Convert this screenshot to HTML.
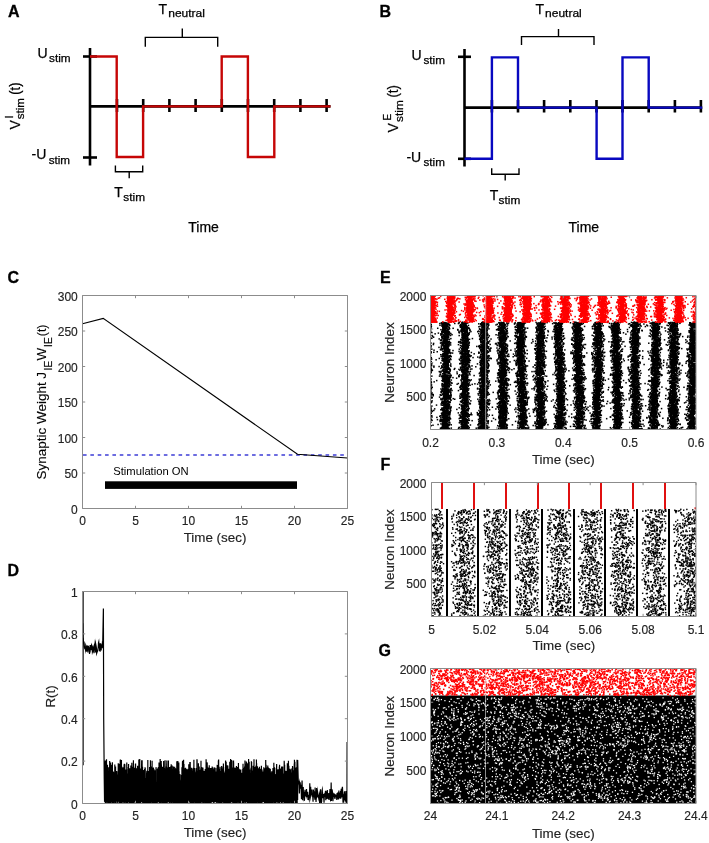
<!DOCTYPE html>
<html><head><meta charset="utf-8">
<style>
html,body{margin:0;padding:0;background:#fff;}
body{width:709px;height:843px;position:relative;overflow:hidden;}
#cv{position:absolute;left:0;top:0;}
#sv{position:absolute;left:0;top:0;}
text{font-family:"Liberation Sans",sans-serif;fill:#000;}
.lab{font-weight:bold;font-size:16px;stroke:#000;stroke-width:0.3px;}
.tk{font-size:12px;fill:#222;stroke:#222;stroke-width:0.15px;}
.al{font-size:13.4px;fill:#222;stroke:#222;stroke-width:0.15px;}
</style></head>
<body>
<svg id="fb" width="709" height="843" viewBox="0 0 709 843" style="position:absolute;left:0;top:0"><defs><pattern id="pF" width="24" height="30" patternUnits="userSpaceOnUse"><path fill="#000" d="M7.8 4.5h1.3v1.3h-1.3zM15.6 2.2h1.3v1.3h-1.3zM12.9 11.0h1.3v1.3h-1.3zM1.4 15.2h1.3v1.3h-1.3zM0.9 13.0h1.3v1.3h-1.3zM1.7 2.7h1.3v1.3h-1.3zM10.2 24.8h1.3v1.3h-1.3zM3.0 6.7h1.3v1.3h-1.3zM15.1 28.4h1.3v1.3h-1.3zM13.9 11.9h1.3v1.3h-1.3zM23.4 1.4h1.3v1.3h-1.3zM20.6 8.7h1.3v1.3h-1.3zM3.5 3.5h1.3v1.3h-1.3zM7.4 24.5h1.3v1.3h-1.3zM4.3 17.4h1.3v1.3h-1.3zM15.3 11.2h1.3v1.3h-1.3zM13.1 1.9h1.3v1.3h-1.3zM1.4 6.2h1.3v1.3h-1.3zM16.3 12.8h1.3v1.3h-1.3zM7.5 17.6h1.3v1.3h-1.3zM10.9 9.0h1.3v1.3h-1.3zM19.1 21.0h1.3v1.3h-1.3zM5.9 17.2h1.3v1.3h-1.3zM12.6 26.3h1.3v1.3h-1.3zM17.5 8.6h1.3v1.3h-1.3zM23.5 3.5h1.3v1.3h-1.3zM10.0 22.7h1.3v1.3h-1.3zM3.6 14.7h1.3v1.3h-1.3zM0.9 20.0h1.3v1.3h-1.3zM18.3 17.2h1.3v1.3h-1.3zM21.0 9.4h1.3v1.3h-1.3zM16.7 17.8h1.3v1.3h-1.3zM13.9 13.7h1.3v1.3h-1.3zM20.2 28.3h1.3v1.3h-1.3zM11.4 19.9h1.3v1.3h-1.3zM1.5 21.0h1.3v1.3h-1.3zM15.5 29.8h1.3v1.3h-1.3zM19.7 8.5h1.3v1.3h-1.3zM9.3 20.1h1.3v1.3h-1.3zM0.5 13.9h1.3v1.3h-1.3zM4.0 3.5h1.3v1.3h-1.3zM1.4 23.0h1.3v1.3h-1.3zM3.1 7.4h1.3v1.3h-1.3zM9.4 26.1h1.3v1.3h-1.3zM1.9 13.5h1.3v1.3h-1.3zM13.2 26.5h1.3v1.3h-1.3zM19.7 25.9h1.3v1.3h-1.3zM6.7 12.5h1.3v1.3h-1.3zM8.6 26.5h1.3v1.3h-1.3zM23.0 4.5h1.3v1.3h-1.3zM4.2 7.0h1.3v1.3h-1.3zM5.6 14.5h1.3v1.3h-1.3zM14.1 7.9h1.3v1.3h-1.3zM0.1 12.6h1.3v1.3h-1.3zM8.9 17.0h1.3v1.3h-1.3zM22.9 20.7h1.3v1.3h-1.3zM12.4 18.5h1.3v1.3h-1.3zM16.2 1.6h1.3v1.3h-1.3zM21.6 23.4h1.3v1.3h-1.3zM21.0 23.9h1.3v1.3h-1.3zM9.4 12.0h1.3v1.3h-1.3zM2.5 19.0h1.3v1.3h-1.3zM1.5 2.0h1.3v1.3h-1.3zM5.0 4.9h1.3v1.3h-1.3zM8.2 1.6h1.3v1.3h-1.3zM0.0 4.5h1.3v1.3h-1.3zM2.4 10.9h1.3v1.3h-1.3zM0.6 26.2h1.3v1.3h-1.3zM14.7 4.5h1.3v1.3h-1.3zM6.1 10.4h1.3v1.3h-1.3zM8.7 3.7h1.3v1.3h-1.3zM20.4 29.8h1.3v1.3h-1.3zM11.2 14.5h1.3v1.3h-1.3zM2.1 3.1h1.3v1.3h-1.3zM8.2 7.9h1.3v1.3h-1.3zM19.9 4.8h1.3v1.3h-1.3zM0.6 28.5h1.3v1.3h-1.3zM12.7 4.4h1.3v1.3h-1.3zM13.0 0.8h1.3v1.3h-1.3zM12.7 29.4h1.3v1.3h-1.3zM20.7 20.9h1.3v1.3h-1.3zM6.3 11.0h1.3v1.3h-1.3zM4.0 23.2h1.3v1.3h-1.3zM12.8 23.4h1.3v1.3h-1.3zM7.9 6.7h1.3v1.3h-1.3zM19.5 29.5h1.3v1.3h-1.3zM20.5 24.2h1.3v1.3h-1.3zM19.6 22.2h1.3v1.3h-1.3zM5.4 15.5h1.3v1.3h-1.3zM8.5 0.9h1.3v1.3h-1.3zM0.7 8.4h1.3v1.3h-1.3zM6.2 20.8h1.3v1.3h-1.3zM23.0 13.4h1.3v1.3h-1.3zM22.5 29.6h1.3v1.3h-1.3zM22.9 10.9h1.3v1.3h-1.3zM5.3 6.8h1.3v1.3h-1.3zM4.7 6.1h1.3v1.3h-1.3zM15.0 27.0h1.3v1.3h-1.3zM20.2 14.4h1.3v1.3h-1.3zM15.7 24.0h1.3v1.3h-1.3zM2.0 19.8h1.3v1.3h-1.3zM21.8 23.5h1.3v1.3h-1.3zM18.0 14.3h1.3v1.3h-1.3zM4.3 23.7h1.3v1.3h-1.3zM8.0 24.0h1.3v1.3h-1.3zM23.3 11.9h1.3v1.3h-1.3zM9.6 28.4h1.3v1.3h-1.3zM17.4 5.1h1.3v1.3h-1.3zM3.0 4.5h1.3v1.3h-1.3zM21.7 24.2h1.3v1.3h-1.3zM3.5 24.8h1.3v1.3h-1.3zM23.5 19.7h1.3v1.3h-1.3zM8.4 16.5h1.3v1.3h-1.3zM3.1 0.4h1.3v1.3h-1.3zM23.3 19.5h1.3v1.3h-1.3zM12.6 28.0h1.3v1.3h-1.3zM10.4 26.2h1.3v1.3h-1.3zM19.8 6.3h1.3v1.3h-1.3zM6.0 8.8h1.3v1.3h-1.3zM5.8 17.6h1.3v1.3h-1.3z"/></pattern><pattern id="pGr" width="30" height="27" patternUnits="userSpaceOnUse"><path fill="#f00" d="M7.8 11.3h1.5v1.5h-1.5zM3.9 24.6h1.5v1.5h-1.5zM10.6 12.4h1.5v1.5h-1.5zM17.5 24.4h1.5v1.5h-1.5zM12.6 24.8h1.5v1.5h-1.5zM15.0 14.4h1.5v1.5h-1.5zM15.7 0.5h1.5v1.5h-1.5zM13.2 4.9h1.5v1.5h-1.5zM0.1 21.6h1.5v1.5h-1.5zM5.2 12.8h1.5v1.5h-1.5zM21.8 15.0h1.5v1.5h-1.5zM9.8 14.0h1.5v1.5h-1.5zM16.7 21.2h1.5v1.5h-1.5zM3.2 15.1h1.5v1.5h-1.5zM7.5 7.5h1.5v1.5h-1.5zM23.2 13.7h1.5v1.5h-1.5zM16.9 20.5h1.5v1.5h-1.5zM27.4 12.0h1.5v1.5h-1.5zM18.4 13.6h1.5v1.5h-1.5zM15.4 18.7h1.5v1.5h-1.5zM13.6 14.4h1.5v1.5h-1.5zM14.3 25.4h1.5v1.5h-1.5zM21.0 23.7h1.5v1.5h-1.5zM28.3 7.0h1.5v1.5h-1.5zM16.8 25.5h1.5v1.5h-1.5zM25.2 3.7h1.5v1.5h-1.5zM3.6 11.9h1.5v1.5h-1.5zM2.2 6.5h1.5v1.5h-1.5zM2.2 18.1h1.5v1.5h-1.5zM23.5 24.2h1.5v1.5h-1.5zM4.6 19.3h1.5v1.5h-1.5zM19.8 3.9h1.5v1.5h-1.5zM26.5 26.1h1.5v1.5h-1.5zM6.6 25.7h1.5v1.5h-1.5zM11.9 13.2h1.5v1.5h-1.5zM29.7 22.5h1.5v1.5h-1.5zM4.8 11.7h1.5v1.5h-1.5zM15.5 9.2h1.5v1.5h-1.5zM5.9 8.6h1.5v1.5h-1.5zM21.7 0.5h1.5v1.5h-1.5zM16.6 11.9h1.5v1.5h-1.5zM0.5 9.0h1.5v1.5h-1.5zM18.7 13.8h1.5v1.5h-1.5zM1.9 26.6h1.5v1.5h-1.5zM23.7 26.2h1.5v1.5h-1.5zM3.1 7.2h1.5v1.5h-1.5zM1.2 21.0h1.5v1.5h-1.5zM8.1 3.5h1.5v1.5h-1.5zM12.7 24.6h1.5v1.5h-1.5zM24.6 7.0h1.5v1.5h-1.5zM4.5 24.8h1.5v1.5h-1.5zM17.1 18.9h1.5v1.5h-1.5zM2.7 1.6h1.5v1.5h-1.5zM20.6 11.5h1.5v1.5h-1.5zM2.2 25.3h1.5v1.5h-1.5zM19.0 21.6h1.5v1.5h-1.5zM2.5 23.1h1.5v1.5h-1.5zM2.0 23.3h1.5v1.5h-1.5zM13.6 9.2h1.5v1.5h-1.5zM16.6 25.0h1.5v1.5h-1.5zM8.0 3.5h1.5v1.5h-1.5zM15.8 6.4h1.5v1.5h-1.5zM3.3 4.4h1.5v1.5h-1.5zM1.5 5.4h1.5v1.5h-1.5zM9.4 8.2h1.5v1.5h-1.5zM22.8 7.8h1.5v1.5h-1.5zM15.0 4.8h1.5v1.5h-1.5zM10.4 0.5h1.5v1.5h-1.5zM7.5 0.4h1.5v1.5h-1.5zM22.0 14.9h1.5v1.5h-1.5zM5.7 12.8h1.5v1.5h-1.5zM28.0 2.9h1.5v1.5h-1.5zM24.6 11.7h1.5v1.5h-1.5zM14.9 22.5h1.5v1.5h-1.5zM11.8 13.7h1.5v1.5h-1.5zM20.6 26.5h1.5v1.5h-1.5zM10.3 22.5h1.5v1.5h-1.5zM21.2 17.2h1.5v1.5h-1.5zM12.1 9.4h1.5v1.5h-1.5zM1.6 3.5h1.5v1.5h-1.5zM2.1 20.0h1.5v1.5h-1.5zM7.7 4.4h1.5v1.5h-1.5zM2.5 22.7h1.5v1.5h-1.5zM26.1 18.1h1.5v1.5h-1.5zM8.5 6.5h1.5v1.5h-1.5zM8.8 12.4h1.5v1.5h-1.5zM4.7 12.0h1.5v1.5h-1.5zM7.9 26.0h1.5v1.5h-1.5zM29.2 14.8h1.5v1.5h-1.5zM7.3 26.1h1.5v1.5h-1.5zM9.3 9.6h1.5v1.5h-1.5zM0.0 10.3h1.5v1.5h-1.5zM14.2 13.6h1.5v1.5h-1.5zM6.0 13.6h1.5v1.5h-1.5zM0.1 7.1h1.5v1.5h-1.5zM2.7 10.8h1.5v1.5h-1.5zM1.3 0.6h1.5v1.5h-1.5zM9.1 6.3h1.5v1.5h-1.5zM17.6 14.3h1.5v1.5h-1.5zM22.5 17.8h1.5v1.5h-1.5zM21.5 23.7h1.5v1.5h-1.5zM11.7 8.8h1.5v1.5h-1.5zM29.5 4.0h1.5v1.5h-1.5zM21.7 17.4h1.5v1.5h-1.5zM1.3 22.6h1.5v1.5h-1.5zM26.8 16.9h1.5v1.5h-1.5zM22.0 21.9h1.5v1.5h-1.5zM4.2 14.1h1.5v1.5h-1.5zM15.1 22.5h1.5v1.5h-1.5zM24.1 22.3h1.5v1.5h-1.5zM17.5 24.1h1.5v1.5h-1.5zM20.5 18.7h1.5v1.5h-1.5zM6.9 0.8h1.5v1.5h-1.5zM4.0 9.7h1.5v1.5h-1.5zM3.1 22.6h1.5v1.5h-1.5zM16.8 16.9h1.5v1.5h-1.5zM18.8 18.4h1.5v1.5h-1.5zM14.7 0.1h1.5v1.5h-1.5zM23.9 20.2h1.5v1.5h-1.5zM15.1 14.5h1.5v1.5h-1.5zM19.8 1.8h1.5v1.5h-1.5zM22.1 6.8h1.5v1.5h-1.5zM2.2 7.2h1.5v1.5h-1.5zM21.9 5.5h1.5v1.5h-1.5zM22.2 26.3h1.5v1.5h-1.5zM14.8 10.3h1.5v1.5h-1.5zM14.4 18.5h1.5v1.5h-1.5zM23.0 16.7h1.5v1.5h-1.5zM19.3 2.1h1.5v1.5h-1.5zM4.4 6.9h1.5v1.5h-1.5zM22.3 8.2h1.5v1.5h-1.5zM17.0 0.3h1.5v1.5h-1.5zM1.8 7.3h1.5v1.5h-1.5zM20.2 18.7h1.5v1.5h-1.5zM20.3 7.9h1.5v1.5h-1.5zM15.5 12.5h1.5v1.5h-1.5zM14.0 3.2h1.5v1.5h-1.5zM26.8 5.4h1.5v1.5h-1.5zM29.3 25.3h1.5v1.5h-1.5zM0.5 12.4h1.5v1.5h-1.5zM24.6 26.1h1.5v1.5h-1.5zM13.5 7.3h1.5v1.5h-1.5zM6.3 25.5h1.5v1.5h-1.5zM6.3 15.7h1.5v1.5h-1.5zM4.3 14.1h1.5v1.5h-1.5zM28.6 3.6h1.5v1.5h-1.5zM24.6 13.7h1.5v1.5h-1.5zM26.6 19.0h1.5v1.5h-1.5zM6.9 24.2h1.5v1.5h-1.5zM14.6 0.7h1.5v1.5h-1.5zM0.1 13.3h1.5v1.5h-1.5zM13.5 8.2h1.5v1.5h-1.5zM4.2 9.3h1.5v1.5h-1.5zM9.5 22.7h1.5v1.5h-1.5zM0.1 20.3h1.5v1.5h-1.5zM25.2 3.2h1.5v1.5h-1.5zM27.8 19.3h1.5v1.5h-1.5zM27.0 7.8h1.5v1.5h-1.5zM11.2 10.6h1.5v1.5h-1.5zM30.0 15.9h1.5v1.5h-1.5zM10.8 11.6h1.5v1.5h-1.5zM8.3 1.3h1.5v1.5h-1.5zM3.1 22.5h1.5v1.5h-1.5zM8.6 25.3h1.5v1.5h-1.5zM7.5 7.2h1.5v1.5h-1.5zM15.3 5.1h1.5v1.5h-1.5zM11.2 25.8h1.5v1.5h-1.5zM26.5 21.9h1.5v1.5h-1.5zM18.9 24.7h1.5v1.5h-1.5zM28.2 14.8h1.5v1.5h-1.5zM21.6 1.3h1.5v1.5h-1.5zM22.0 12.2h1.5v1.5h-1.5zM22.6 17.4h1.5v1.5h-1.5zM8.6 1.3h1.5v1.5h-1.5zM27.8 3.4h1.5v1.5h-1.5zM14.2 9.3h1.5v1.5h-1.5zM8.9 20.0h1.5v1.5h-1.5zM29.3 7.0h1.5v1.5h-1.5zM19.7 8.1h1.5v1.5h-1.5zM16.7 10.6h1.5v1.5h-1.5zM5.0 4.4h1.5v1.5h-1.5zM6.2 24.5h1.5v1.5h-1.5zM14.9 5.9h1.5v1.5h-1.5zM27.2 26.9h1.5v1.5h-1.5zM13.5 3.8h1.5v1.5h-1.5zM5.8 2.4h1.5v1.5h-1.5zM10.3 2.5h1.5v1.5h-1.5zM7.2 7.0h1.5v1.5h-1.5zM17.1 24.0h1.5v1.5h-1.5zM22.5 11.1h1.5v1.5h-1.5zM12.4 14.2h1.5v1.5h-1.5zM11.3 9.1h1.5v1.5h-1.5zM1.9 7.5h1.5v1.5h-1.5zM29.0 3.4h1.5v1.5h-1.5zM15.1 17.0h1.5v1.5h-1.5zM25.9 5.8h1.5v1.5h-1.5zM8.1 6.7h1.5v1.5h-1.5zM12.0 12.0h1.5v1.5h-1.5zM28.6 22.9h1.5v1.5h-1.5zM26.2 0.6h1.5v1.5h-1.5zM1.0 19.2h1.5v1.5h-1.5zM26.9 12.8h1.5v1.5h-1.5zM17.6 0.0h1.5v1.5h-1.5zM11.7 25.0h1.5v1.5h-1.5zM24.8 23.1h1.5v1.5h-1.5zM29.2 6.7h1.5v1.5h-1.5zM3.3 4.2h1.5v1.5h-1.5zM15.7 18.4h1.5v1.5h-1.5zM28.2 19.5h1.5v1.5h-1.5zM19.4 20.6h1.5v1.5h-1.5zM13.7 14.9h1.5v1.5h-1.5zM1.2 21.1h1.5v1.5h-1.5zM7.0 24.8h1.5v1.5h-1.5zM19.4 8.2h1.5v1.5h-1.5zM3.8 6.8h1.5v1.5h-1.5zM19.1 18.9h1.5v1.5h-1.5zM3.4 1.9h1.5v1.5h-1.5zM15.7 15.7h1.5v1.5h-1.5zM11.6 6.0h1.5v1.5h-1.5zM18.0 0.3h1.5v1.5h-1.5zM9.0 12.4h1.5v1.5h-1.5zM28.8 17.4h1.5v1.5h-1.5zM26.5 12.8h1.5v1.5h-1.5zM7.0 6.7h1.5v1.5h-1.5zM28.8 19.0h1.5v1.5h-1.5zM9.2 0.6h1.5v1.5h-1.5zM14.9 18.2h1.5v1.5h-1.5zM12.6 6.9h1.5v1.5h-1.5zM20.0 25.0h1.5v1.5h-1.5zM6.8 0.9h1.5v1.5h-1.5zM10.1 11.4h1.5v1.5h-1.5zM20.5 5.3h1.5v1.5h-1.5zM23.9 20.0h1.5v1.5h-1.5zM15.1 5.5h1.5v1.5h-1.5zM29.1 8.4h1.5v1.5h-1.5zM24.6 6.2h1.5v1.5h-1.5zM6.6 20.5h1.5v1.5h-1.5zM8.8 25.7h1.5v1.5h-1.5zM14.9 5.1h1.5v1.5h-1.5zM6.7 11.3h1.5v1.5h-1.5z"/></pattern><pattern id="pGw" width="30" height="30" patternUnits="userSpaceOnUse"><path fill="#fff" d="M20.0 28.5h1.1v1.1h-1.1zM4.4 11.8h1.1v1.1h-1.1zM6.4 29.2h1.1v1.1h-1.1zM4.3 1.6h1.1v1.1h-1.1zM1.8 11.8h1.1v1.1h-1.1zM26.9 26.5h1.1v1.1h-1.1zM22.0 29.9h1.1v1.1h-1.1zM27.9 9.9h1.1v1.1h-1.1zM5.6 28.1h1.1v1.1h-1.1zM22.4 1.0h1.1v1.1h-1.1zM19.9 11.4h1.1v1.1h-1.1zM11.2 10.0h1.1v1.1h-1.1zM5.1 0.1h1.1v1.1h-1.1zM8.4 10.5h1.1v1.1h-1.1zM28.7 3.7h1.1v1.1h-1.1zM28.9 6.2h1.1v1.1h-1.1zM10.7 24.6h1.1v1.1h-1.1zM24.7 13.0h1.1v1.1h-1.1zM1.5 14.2h1.1v1.1h-1.1zM11.2 27.6h1.1v1.1h-1.1zM5.8 10.9h1.1v1.1h-1.1zM26.9 0.9h1.1v1.1h-1.1zM12.3 24.4h1.1v1.1h-1.1zM23.0 1.2h1.1v1.1h-1.1zM1.0 1.9h1.1v1.1h-1.1zM27.6 7.7h1.1v1.1h-1.1zM22.4 27.0h1.1v1.1h-1.1zM10.2 8.2h1.1v1.1h-1.1zM28.7 18.5h1.1v1.1h-1.1zM7.9 21.5h1.1v1.1h-1.1zM9.5 8.3h1.1v1.1h-1.1zM0.1 22.7h1.1v1.1h-1.1zM27.5 19.0h1.1v1.1h-1.1zM28.3 0.7h1.1v1.1h-1.1zM7.0 14.3h1.1v1.1h-1.1zM28.7 28.6h1.1v1.1h-1.1zM11.6 7.5h1.1v1.1h-1.1zM12.9 14.8h1.1v1.1h-1.1zM27.8 5.5h1.1v1.1h-1.1zM24.1 22.2h1.1v1.1h-1.1zM24.7 23.2h1.1v1.1h-1.1zM18.2 9.8h1.1v1.1h-1.1zM9.6 10.9h1.1v1.1h-1.1zM23.5 2.4h1.1v1.1h-1.1zM5.9 22.6h1.1v1.1h-1.1zM7.4 1.9h1.1v1.1h-1.1zM1.0 16.6h1.1v1.1h-1.1zM9.8 29.4h1.1v1.1h-1.1zM26.5 29.6h1.1v1.1h-1.1zM7.9 2.5h1.1v1.1h-1.1zM2.9 15.0h1.1v1.1h-1.1zM21.3 13.4h1.1v1.1h-1.1zM7.0 12.5h1.1v1.1h-1.1zM18.6 20.2h1.1v1.1h-1.1zM22.4 25.4h1.1v1.1h-1.1zM19.9 3.6h1.1v1.1h-1.1zM25.2 8.8h1.1v1.1h-1.1zM17.0 11.2h1.1v1.1h-1.1zM22.1 6.0h1.1v1.1h-1.1zM7.4 7.4h1.1v1.1h-1.1zM4.6 26.5h1.1v1.1h-1.1zM17.3 9.8h1.1v1.1h-1.1zM11.9 29.8h1.1v1.1h-1.1zM15.2 6.9h1.1v1.1h-1.1zM24.3 19.6h1.1v1.1h-1.1zM29.7 3.1h1.1v1.1h-1.1zM14.2 24.6h1.1v1.1h-1.1zM25.2 27.4h1.1v1.1h-1.1zM1.2 8.8h1.1v1.1h-1.1zM3.6 5.7h1.1v1.1h-1.1z"/></pattern></defs><path d="M83,765V625L85,643H103V608.4L104,762H298.7V761L300,782H347V803.5H83Z" fill="none"/><polyline points="83,765 83,625 85,643 100,645 103,640 103.5,608 104.5,720 105,762" fill="none" stroke="#000" stroke-width="1.2"/><path d="M104,768h194.7v35.5h-194.7z" fill="#000"/><polyline points="298.7,761 300,785 310,795 320,797 330,794 340,796 346,790 347,741" fill="none" stroke="#000" stroke-width="1.2"/><clipPath id="cE"><rect x="430.5" y="295.5" width="265.5" height="134"/></clipPath><g clip-path="url(#cE)"><path fill="#000" d="M422.1,322.1h9V429.5h-9zM441.1,322.1h9V429.5h-9zM460.1,322.1h9V429.5h-9zM479.1,322.1h9V429.5h-9zM498.1,322.1h9V429.5h-9zM517.1,322.1h9V429.5h-9zM536.1,322.1h9V429.5h-9zM555.1,322.1h9V429.5h-9zM574.1,322.1h9V429.5h-9zM593.1,322.1h9V429.5h-9zM612.1,322.1h9V429.5h-9zM631.1,322.1h9V429.5h-9zM650.1,322.1h9V429.5h-9zM669.1,322.1h9V429.5h-9zM688.1,322.1h9V429.5h-9zM707.1,322.1h9V429.5h-9z"/><path fill="#f00" d="M428.0,295.5h8V322.1h-8zM447.0,295.5h8V322.1h-8zM466.0,295.5h8V322.1h-8zM485.0,295.5h8V322.1h-8zM504.0,295.5h8V322.1h-8zM523.0,295.5h8V322.1h-8zM542.0,295.5h8V322.1h-8zM561.0,295.5h8V322.1h-8zM580.0,295.5h8V322.1h-8zM599.0,295.5h8V322.1h-8zM618.0,295.5h8V322.1h-8zM637.0,295.5h8V322.1h-8zM656.0,295.5h8V322.1h-8zM675.0,295.5h8V322.1h-8zM694.0,295.5h8V322.1h-8zM713.0,295.5h8V322.1h-8z"/></g><path fill="url(#pF)" d="M431.5,509.1H443.6V616.5H431.5zM451.4,509.1H475.6V616.5H451.4zM483.2,509.1H507.3V616.5H483.2zM514.9,509.1H539.1V616.5H514.9zM546.7,509.1H570.9V616.5H546.7zM578.5,509.1H602.7V616.5H578.5zM610.2,509.1H634.4V616.5H610.2zM642.0,509.1H666.2V616.5H642.0zM673.8,509.1H696.0V616.5H673.8z"/><path fill="#000" d="M445.5,509.1h2.2V616.5h-2.2zM477.3,509.1h2.2V616.5h-2.2zM509.0,509.1h2.2V616.5h-2.2zM540.8,509.1h2.2V616.5h-2.2zM572.6,509.1h2.2V616.5h-2.2zM604.4,509.1h2.2V616.5h-2.2zM636.1,509.1h2.2V616.5h-2.2zM667.9,509.1h2.2V616.5h-2.2z"/><path fill="#dc1414" d="M441.0,482.5h2.4V509.1h-2.4zM472.8,482.5h2.4V509.1h-2.4zM504.5,482.5h2.4V509.1h-2.4zM536.3,482.5h2.4V509.1h-2.4zM568.1,482.5h2.4V509.1h-2.4zM599.8,482.5h2.4V509.1h-2.4zM631.6,482.5h2.4V509.1h-2.4zM663.4,482.5h2.4V509.1h-2.4z"/><rect x="430.5" y="695.9" width="265.5" height="107.6" fill="#000"/><rect x="430.5" y="695.9" width="265.5" height="107.6" fill="url(#pGw)"/><rect x="430.5" y="668.5" width="265.5" height="27.4" fill="url(#pGr)"/></svg>
<canvas id="cv" width="709" height="843"></canvas>
<svg id="sv" width="709" height="843" viewBox="0 0 709 843">
<!-- ================= PANEL A ================= -->
<text class="lab" x="8" y="16.7">A</text>
<g stroke="#000" stroke-width="2.6" fill="none">
  <line x1="90" y1="48" x2="90" y2="165.5"/>
  <line x1="83" y1="56.5" x2="97" y2="56.5"/>
  <line x1="83" y1="157.5" x2="97" y2="157.5"/>
  <line x1="90" y1="106.4" x2="330.5" y2="106.4"/>
  <path d="M117,99V112M143.2,99V112M169.4,99V112M195.6,99V112M221.8,99V112M248,99V112M274.2,99V112M300.4,99V112M326.6,99V112"/>
</g>
<path d="M90,56.5H116.7V157H143.1V106.4H221.7V56.5H247.9V157H274.3V106.4H330.5" stroke="#c60606" stroke-width="2.4" fill="none"/>
<g stroke="#000" stroke-width="1.4" fill="none">
  <path d="M145.3,46.7V37.4H217.7V46.7M182.3,37.4V28.6"/>
  <path d="M115.4,165.4V171.7H142.7V165.4M129.2,171.7V178.2"/>
</g>
<g font-size="14" stroke="#000" stroke-width="0.25">
  <text x="37.6" y="58.3">U</text><text x="49" y="62.3" font-size="10.9" textLength="21.6" lengthAdjust="spacingAndGlyphs">stim</text>
  <text x="31.6" y="159.3">-U</text><text x="48.7" y="163.7" font-size="10.9" textLength="21.4" lengthAdjust="spacingAndGlyphs">stim</text>
  <text x="158.6" y="13.6">T</text><text x="168.2" y="17.2" font-size="10.9" textLength="36.8" lengthAdjust="spacingAndGlyphs">neutral</text>
  <text x="114.3" y="197.2">T</text><text x="123.3" y="201.2" font-size="10.9" textLength="21.7" lengthAdjust="spacingAndGlyphs">stim</text>
  <text x="188.3" y="232.2" textLength="30.6" lengthAdjust="spacingAndGlyphs">Time</text>
  <g transform="translate(19.9,129.5) rotate(-90)">
    <text x="0" y="0">V</text>
    <text x="11" y="-7" font-size="11">I</text>
    <text x="10.3" y="4.2" font-size="10.9" textLength="21.2" lengthAdjust="spacingAndGlyphs">stim</text>
    <text x="34.8" y="0" textLength="12.1" lengthAdjust="spacingAndGlyphs">(t)</text>
  </g>
</g>

<!-- ================= PANEL B ================= -->
<text class="lab" x="379.5" y="17">B</text>
<g stroke="#000" stroke-width="2.6" fill="none">
  <line x1="464.5" y1="49" x2="464.5" y2="166.5"/>
  <line x1="458" y1="56.8" x2="471" y2="56.8"/>
  <line x1="458" y1="158.8" x2="471" y2="158.8"/>
  <line x1="464.5" y1="107.6" x2="702.2" y2="107.6"/>
  <path d="M491.9,100V112.4M518,100V112.4M544.1,100V112.4M570.3,100V112.4M596.5,100V112.4M622.5,100V112.4M648.7,100V112.4M674.9,100V112.4M700.9,100V112.4"/>
</g>
<path d="M464.5,158.8H491.9V57.4H518V107.6H596.6V158.8H622.5V57.4H648.7V107.6H702.2" stroke="#0808c0" stroke-width="2.4" fill="none"/>
<g stroke="#000" stroke-width="1.4" fill="none">
  <path d="M521.5,45V36.6H594V45M558.5,36.6V29"/>
  <path d="M491.7,168.2V174.3H519V168.2M505.2,174.3V180.6"/>
</g>
<g font-size="14" stroke="#000" stroke-width="0.25">
  <text x="411.6" y="60.4">U</text><text x="423.4" y="64.4" font-size="10.9" textLength="21.6" lengthAdjust="spacingAndGlyphs">stim</text>
  <text x="406.4" y="161.5">-U</text><text x="423.5" y="165.7" font-size="10.9" textLength="21.4" lengthAdjust="spacingAndGlyphs">stim</text>
  <text x="535.5" y="13.6">T</text><text x="545" y="17.2" font-size="10.9" textLength="36.8" lengthAdjust="spacingAndGlyphs">neutral</text>
  <text x="489.8" y="199.6">T</text><text x="498.6" y="203.6" font-size="10.9" textLength="21.7" lengthAdjust="spacingAndGlyphs">stim</text>
  <text x="568.5" y="231.8" textLength="30.6" lengthAdjust="spacingAndGlyphs">Time</text>
  <g transform="translate(398.2,132.4) rotate(-90)">
    <text x="0" y="0">V</text>
    <text x="11.8" y="-7.4" font-size="10">E</text>
    <text x="10.5" y="4.6" font-size="10.9" textLength="21.6" lengthAdjust="spacingAndGlyphs">stim</text>
    <text x="34.8" y="0" textLength="12.5" lengthAdjust="spacingAndGlyphs">(t)</text>
  </g>
</g>

<!-- ================= PANEL C ================= -->
<text class="lab" x="7.5" y="283">C</text>
<g id="Cax"></g>

<!-- ================= PANEL D ================= -->
<text class="lab" x="7.5" y="576">D</text>

<!-- ================= PANEL E/F/G labels ================= -->
<text class="lab" x="380" y="283">E</text>
<text class="lab" x="380.5" y="470">F</text>
<text class="lab" x="378.5" y="656">G</text>
<g id="dyn"><rect x="105" y="481.3" width="192" height="7.6" fill="#000"></rect><line x1="83" y1="455" x2="347.5" y2="455" stroke="#3c3cd6" stroke-width="1.7" stroke-dasharray="3.6 3.75"></line><polyline points="82.5,323.7 103.2,318.4 297.5,454.3 347.5,458" stroke="#000" stroke-width="1.15" fill="none"></polyline><path d="M82.5,295.5H347.5V508.5H82.5ZM82.5,508.5v-2.7M82.5,295.5v2.7M135.5,508.5v-2.7M135.5,295.5v2.7M188.5,508.5v-2.7M188.5,295.5v2.7M241.5,508.5v-2.7M241.5,295.5v2.7M294.5,508.5v-2.7M294.5,295.5v2.7M347.5,508.5v-2.7M347.5,295.5v2.7M82.5,508.5h2.7M347.5,508.5h-2.7M82.5,473h2.7M347.5,473h-2.7M82.5,437.5h2.7M347.5,437.5h-2.7M82.5,402h2.7M347.5,402h-2.7M82.5,366.5h2.7M347.5,366.5h-2.7M82.5,331h2.7M347.5,331h-2.7M82.5,295.5h2.7M347.5,295.5h-2.7" stroke="#8c8c8c" stroke-width="1" fill="none"></path><text x="82.5" y="525.3" text-anchor="middle" class="tk">0</text><text x="135.5" y="525.3" text-anchor="middle" class="tk">5</text><text x="188.5" y="525.3" text-anchor="middle" class="tk">10</text><text x="241.5" y="525.3" text-anchor="middle" class="tk">15</text><text x="294.5" y="525.3" text-anchor="middle" class="tk">20</text><text x="347.5" y="525.3" text-anchor="middle" class="tk">25</text><text x="77.8" y="513.7" text-anchor="end" class="tk">0</text><text x="77.8" y="478.2" text-anchor="end" class="tk">50</text><text x="77.8" y="442.7" text-anchor="end" class="tk">100</text><text x="77.8" y="407.2" text-anchor="end" class="tk">150</text><text x="77.8" y="371.7" text-anchor="end" class="tk">200</text><text x="77.8" y="336.2" text-anchor="end" class="tk">250</text><text x="77.8" y="300.7" text-anchor="end" class="tk">300</text><text x="215" y="541.6" text-anchor="middle" class="al">Time (sec)</text><text x="113.2" y="475.4" font-size="11.5" textLength="75.5" lengthAdjust="spacingAndGlyphs">Stimulation ON</text><g transform="translate(46.4,478.6) rotate(-90)" class="al"><text x="-0.8" y="0" textLength="107.5" lengthAdjust="spacingAndGlyphs">Synaptic Weight J</text><text x="108.2" y="5.6" font-size="10.8" textLength="9.6" lengthAdjust="spacingAndGlyphs">IE</text><text x="118" y="0" textLength="12.6" lengthAdjust="spacingAndGlyphs">W</text><text x="131.7" y="5.6" font-size="10.8" textLength="9.6" lengthAdjust="spacingAndGlyphs">IE</text><text x="142.4" y="0" textLength="11.6" lengthAdjust="spacingAndGlyphs">(t)</text></g><path d="M82.5,591.5H347.5V803.5H82.5ZM82.5,803.5v-2.7M82.5,591.5v2.7M135.5,803.5v-2.7M135.5,591.5v2.7M188.5,803.5v-2.7M188.5,591.5v2.7M241.5,803.5v-2.7M241.5,591.5v2.7M294.5,803.5v-2.7M294.5,591.5v2.7M347.5,803.5v-2.7M347.5,591.5v2.7M82.5,803.5h2.7M347.5,803.5h-2.7M82.5,761.1h2.7M347.5,761.1h-2.7M82.5,718.7h2.7M347.5,718.7h-2.7M82.5,676.3h2.7M347.5,676.3h-2.7M82.5,633.9h2.7M347.5,633.9h-2.7M82.5,591.5h2.7M347.5,591.5h-2.7" stroke="#8c8c8c" stroke-width="1" fill="none"></path><text x="82.5" y="819.8" text-anchor="middle" class="tk">0</text><text x="135.5" y="819.8" text-anchor="middle" class="tk">5</text><text x="188.5" y="819.8" text-anchor="middle" class="tk">10</text><text x="241.5" y="819.8" text-anchor="middle" class="tk">15</text><text x="294.5" y="819.8" text-anchor="middle" class="tk">20</text><text x="347.5" y="819.8" text-anchor="middle" class="tk">25</text><text x="77.8" y="808.7" text-anchor="end" class="tk">0</text><text x="77.8" y="766.3000000000001" text-anchor="end" class="tk">0.2</text><text x="77.8" y="723.9000000000001" text-anchor="end" class="tk">0.4</text><text x="77.8" y="681.5" text-anchor="end" class="tk">0.6</text><text x="77.8" y="639.1" text-anchor="end" class="tk">0.8</text><text x="77.8" y="596.7" text-anchor="end" class="tk">1</text><text x="215" y="836.8" text-anchor="middle" class="al">Time (sec)</text><text transform="translate(55.4,696.4) rotate(-90)" text-anchor="middle" class="al">R(t)</text><path d="M430.5,295.5H696V429.5H430.5ZM430.5,429.5v-2.7M430.5,295.5v2.7M496.875,429.5v-2.7M496.875,295.5v2.7M563.25,429.5v-2.7M563.25,295.5v2.7M629.625,429.5v-2.7M629.625,295.5v2.7M696,429.5v-2.7M696,295.5v2.7M430.5,396h2.7M696,396h-2.7M430.5,362.5h2.7M696,362.5h-2.7M430.5,329h2.7M696,329h-2.7M430.5,295.5h2.7M696,295.5h-2.7" stroke="#8c8c8c" stroke-width="1" fill="none"></path><text x="430.5" y="446.8" text-anchor="middle" class="tk">0.2</text><text x="496.875" y="446.8" text-anchor="middle" class="tk">0.3</text><text x="563.25" y="446.8" text-anchor="middle" class="tk">0.4</text><text x="629.625" y="446.8" text-anchor="middle" class="tk">0.5</text><text x="696" y="446.8" text-anchor="middle" class="tk">0.6</text><text x="426.4" y="401.2" text-anchor="end" class="tk">500</text><text x="426.4" y="367.7" text-anchor="end" class="tk">1000</text><text x="426.4" y="334.2" text-anchor="end" class="tk">1500</text><text x="426.4" y="300.7" text-anchor="end" class="tk">2000</text><text x="563.25" y="463.5" text-anchor="middle" class="al">Time (sec)</text><text transform="translate(394,362.5) rotate(-90)" text-anchor="middle" class="al">Neuron Index</text><path d="M431.5,482.5H696V616.5H431.5ZM431.5,616.5v-2.7M431.5,482.5v2.7M484.4,616.5v-2.7M484.4,482.5v2.7M537.3,616.5v-2.7M537.3,482.5v2.7M590.2,616.5v-2.7M590.2,482.5v2.7M643.1,616.5v-2.7M643.1,482.5v2.7M696,616.5v-2.7M696,482.5v2.7M431.5,583h2.7M696,583h-2.7M431.5,549.5h2.7M696,549.5h-2.7M431.5,516h2.7M696,516h-2.7M431.5,482.5h2.7M696,482.5h-2.7" stroke="#8c8c8c" stroke-width="1" fill="none"></path><text x="431.5" y="633.6" text-anchor="middle" class="tk">5</text><text x="484.4" y="633.6" text-anchor="middle" class="tk">5.02</text><text x="537.3" y="633.6" text-anchor="middle" class="tk">5.04</text><text x="590.2" y="633.6" text-anchor="middle" class="tk">5.06</text><text x="643.1" y="633.6" text-anchor="middle" class="tk">5.08</text><text x="696" y="633.6" text-anchor="middle" class="tk">5.1</text><text x="426.4" y="588.2" text-anchor="end" class="tk">500</text><text x="426.4" y="554.7" text-anchor="end" class="tk">1000</text><text x="426.4" y="521.2" text-anchor="end" class="tk">1500</text><text x="426.4" y="487.7" text-anchor="end" class="tk">2000</text><text x="563.75" y="650.2" text-anchor="middle" class="al">Time (sec)</text><text transform="translate(394,549.5) rotate(-90)" text-anchor="middle" class="al">Neuron Index</text><path d="M430.5,668.5H696V803.5H430.5ZM430.5,803.5v-2.7M430.5,668.5v2.7M496.875,803.5v-2.7M496.875,668.5v2.7M563.25,803.5v-2.7M563.25,668.5v2.7M629.625,803.5v-2.7M629.625,668.5v2.7M696,803.5v-2.7M696,668.5v2.7M430.5,769.75h2.7M696,769.75h-2.7M430.5,736h2.7M696,736h-2.7M430.5,702.25h2.7M696,702.25h-2.7M430.5,668.5h2.7M696,668.5h-2.7" stroke="#8c8c8c" stroke-width="1" fill="none"></path><text x="430.5" y="820.4" text-anchor="middle" class="tk">24</text><text x="496.875" y="820.4" text-anchor="middle" class="tk">24.1</text><text x="563.25" y="820.4" text-anchor="middle" class="tk">24.2</text><text x="629.625" y="820.4" text-anchor="middle" class="tk">24.3</text><text x="696" y="820.4" text-anchor="middle" class="tk">24.4</text><text x="426.4" y="774.95" text-anchor="end" class="tk">500</text><text x="426.4" y="741.2" text-anchor="end" class="tk">1000</text><text x="426.4" y="707.45" text-anchor="end" class="tk">1500</text><text x="426.4" y="673.7" text-anchor="end" class="tk">2000</text><text x="563.25" y="838.3" text-anchor="middle" class="al">Time (sec)</text><text transform="translate(394,736.2) rotate(-90)" text-anchor="middle" class="al">Neuron Index</text></g>
</svg>
<script>
(function(){
var NS=document.getElementById("sv").namespaceURI;
var dyn=document.getElementById('dyn');
var STATIC=dyn.childNodes.length>0;
function el(tag,attrs,txt,parent){var e=document.createElementNS(NS,tag);for(var k in attrs)e.setAttribute(k,attrs[k]);if(txt!=null)e.textContent=txt;if(!STATIC)(parent||dyn).appendChild(e);return e;}
var s=987654321;function rnd(){s^=s<<13;s^=s>>>17;s^=s<<5;return ((s>>>0)%1000003)/1000003;}
function gauss(){var u=rnd()||1e-6,v=rnd();return Math.sqrt(-2*Math.log(u))*Math.cos(6.2831853*v);}
var cv=document.getElementById('cv');var ctx=cv.getContext('2d');
ctx.fillStyle='#fff';ctx.fillRect(82,591,266.5,213.5);ctx.fillRect(430,295,267,135);ctx.fillRect(431,482,266,135);ctx.fillRect(430,668,267,136);

function axes(o){
  var g='#8c8c8c', L=o.tklen||2.7;
  var d='M'+o.x0+','+o.y0+'H'+o.x1+'V'+o.y1+'H'+o.x0+'Z';
  var p='';
  o.xt.forEach(function(t){p+='M'+t[0]+','+o.y1+'v-'+L+'M'+t[0]+','+o.y0+'v'+L;});
  o.yt.forEach(function(t){p+='M'+o.x0+','+t[0]+'h'+L+'M'+o.x1+','+t[0]+'h-'+L;});
  el('path',{d:d+p,stroke:g,'stroke-width':1,fill:'none'});
  o.xt.forEach(function(t){el('text',{x:t[0],y:o.xty,'text-anchor':'middle','class':'tk'},t[1]);});
  o.yt.forEach(function(t){el('text',{x:o.ytx,y:t[0]+5.2,'text-anchor':'end','class':'tk'},t[1]);});
  if(o.xlab) el('text',{x:(o.x0+o.x1)/2,y:o.xly,'text-anchor':'middle','class':'al'},o.xlab);
}

// ---------- Panel C ----------
(function(){
  var x0=82.5,x1=347.5,y0=295.5,y1=508.5;
  var sx=(x1-x0)/25, sy=(y1-y0)/300;
  function X(t){return x0+t*sx;} function Y(v){return y1-v*sy;}
  var xt=[],yt=[];
  for(var i=0;i<=5;i++)xt.push([X(i*5),''+(i*5)]);
  for(var i=0;i<=6;i++)yt.push([Y(i*50),''+(i*50)]);
  el('rect',{x:105,y:481.3,width:192,height:7.6,fill:'#000'});
  el('line',{x1:x0+0.5,y1:455,x2:x1,y2:455,stroke:'#3c3cd6','stroke-width':1.7,'stroke-dasharray':'3.6 3.75'});
  el('polyline',{points:X(0)+',323.7 103.2,318.4 297.5,454.3 '+x1+',458',stroke:'#000','stroke-width':1.15,fill:'none'});
  axes({x0:x0,x1:x1,y0:y0,y1:y1,xt:xt,yt:yt,xty:525.3,ytx:77.8,xlab:'Time (sec)',xly:541.6});
  el('text',{x:113.2,y:475.4,'font-size':11.5,textLength:75.5,lengthAdjust:'spacingAndGlyphs'},'Stimulation ON');
  var g=el('g',{transform:'translate(46.4,478.6) rotate(-90)','class':'al'});
  el('text',{x:-0.8,y:0,textLength:107.5,lengthAdjust:'spacingAndGlyphs'},'Synaptic Weight J',g);
  el('text',{x:108.2,y:5.6,'font-size':10.8,textLength:9.6,lengthAdjust:'spacingAndGlyphs'},'IE',g);
  el('text',{x:118,y:0,textLength:12.6,lengthAdjust:'spacingAndGlyphs'},'W',g);
  el('text',{x:131.7,y:5.6,'font-size':10.8,textLength:9.6,lengthAdjust:'spacingAndGlyphs'},'IE',g);
  el('text',{x:142.4,y:0,textLength:11.6,lengthAdjust:'spacingAndGlyphs'},'(t)',g);
})();

// ---------- Panel D ----------
(function(){
  var x0=82.5,x1=347.5,y0=591.5,y1=803.5;
  var sx=(x1-x0)/25, sy=(y1-y0);
  function X(t){return x0+t*sx;} function Y(v){return y1-v*sy;}
  var xt=[],yt=[];
  for(var i=0;i<=5;i++)xt.push([X(i*5),''+(i*5)]);
  var yl=['0','0.2','0.4','0.6','0.8','1'];
  for(var i=0;i<=5;i++)yt.push([Y(i*0.2),yl[i]]);
  ctx.save();
  ctx.beginPath();ctx.rect(x0,y0-2,x1-x0+1.5,y1-y0+1.5);ctx.clip();
  ctx.strokeStyle='#000';ctx.lineWidth=1.2;ctx.lineJoin='miter';
  ctx.beginPath();ctx.moveTo(x0+0.6,Y(0.18));ctx.lineTo(x0+0.6,y0);ctx.stroke();
  ctx.beginPath();
  ctx.moveTo(X(0.02),Y(0.85));
  var t;
  for(t=0.04;t<0.3;t+=0.03){ctx.lineTo(X(t),Y(0.735+0.1*Math.exp(-t*14)+gauss()*0.01));}
  for(;t<1.93;t+=0.025){ctx.lineTo(X(t),Y(0.732+gauss()*0.012+0.008*Math.sin(t*17)));}
  ctx.lineTo(X(1.97),Y(0.92));ctx.lineTo(X(2.0),Y(0.4));ctx.lineTo(X(2.05),Y(0.12));
  for(t=2.08;t<20.3;t+=0.0045){var r=rnd();var v=r<0.5? rnd()*0.025 : 0.03+rnd()*0.145; if(rnd()<0.04)v=0.165+rnd()*0.045; ctx.lineTo(X(t),Y(v));}
  ctx.lineTo(X(20.3),Y(0.205));
  for(t=20.35;t<24.9;t+=0.028){var base=0.035+0.07*Math.exp(-(t-20.35)*3);ctx.lineTo(X(t),Y(Math.max(0.004,base+gauss()*0.02)));}
  ctx.lineTo(X(24.95),Y(0.02));ctx.lineTo(X(25)-0.4,Y(0.29));
  ctx.stroke();ctx.restore();
  axes({x0:x0,x1:x1,y0:y0,y1:y1,xt:xt,yt:yt,xty:819.8,ytx:77.8,xlab:'Time (sec)',xly:836.8});
  el('text',{transform:'translate(55.4,696.4) rotate(-90)','text-anchor':'middle','class':'al'},'R(t)');
})();

function dot(x,y){ctx.fillRect(x-0.75,y-0.75,1.5,1.5);}

// ---------- Panel E ----------
(function(){
  var x0=430.5,x1=696,y0=295.5,y1=429.5;
  var sy=(y1-y0)/2000;
  function Y(n){return y1-n*sy;}
  ctx.save();ctx.beginPath();ctx.rect(x0,y0,x1-x0,y1-y0);ctx.clip();
  ctx.fillStyle='#000';
  for(var k=-1;k<15;k++){
    var cx=445.6+19.0*k, tilt=(rnd()-0.5)*3, ph=rnd()*6.28;
    for(var i=0;i<1500;i++){
      var n=rnd()*1600;var f=n/1600;
      var w=tilt*(f-0.5)+Math.sin(f*4+ph)*0.7;
      dot(cx+w+gauss()*2.4,Y(n));
    }
    for(var i=0;i<28;i++){dot(cx+rnd()*19,Y(rnd()*1600));}
  }
  ctx.fillStyle='#f00';
  for(var k=-1;k<15;k++){
    var cx=451+19.0*k;
    for(var i=0;i<400;i++){dot(cx+gauss()*2.2,Y(1600+rnd()*400));}
    for(var i=0;i<26;i++){dot(cx+rnd()*19,Y(1600+rnd()*400));}
  }
  ctx.fillStyle='rgba(215,215,215,0.95)';ctx.fillRect(485.4,y0,0.7,y1-y0);
  ctx.restore();
  var xt=[],yt=[],xl=['0.2','0.3','0.4','0.5','0.6'];
  for(var i=0;i<=4;i++)xt.push([x0+i*(x1-x0)/4,xl[i]]);
  for(var i=1;i<=4;i++)yt.push([Y(i*500),''+(i*500)]);
  axes({x0:x0,x1:x1,y0:y0,y1:y1,xt:xt,yt:yt,xty:446.8,ytx:426.4,xlab:'Time (sec)',xly:463.5});
  el('text',{transform:'translate(394,362.5) rotate(-90)','text-anchor':'middle','class':'al'},'Neuron Index');
})();

// ---------- Panel F ----------
(function(){
  var x0=431.5,x1=696,y0=482.5,y1=616.5;
  var sy=(y1-y0)/2000;
  function Y(n){return y1-n*sy;}
  ctx.save();ctx.beginPath();ctx.rect(x0,y0,x1-x0,y1-y0);ctx.clip();
  var reds=[],blks=[];
  for(var k=0;k<8;k++){reds.push(442.2+31.77*k);blks.push(446.6+31.77*k);}
  var segs=[[x0-2,443.6]];
  for(var k=0;k<8;k++){segs.push([blks[k]+4.8,(k<7?blks[k+1]-2.8:x1+10)]);}
  ctx.fillStyle='#000';
  segs.forEach(function(sg){
    var L=sg[1]-sg[0];
    var n=Math.round(L*26);
    for(var i=0;i<n;i++){
      var xx;
      if(rnd()<0.45) xx=sg[0]+rnd()*L; else {xx=sg[0]+L*(0.55+gauss()*0.22); if(xx<sg[0]||xx>sg[1]) xx=sg[0]+rnd()*L;}
      ctx.fillRect(xx-0.7,Y(rnd()*1600)-0.7,1.42,1.42);
    }
  });
  for(var k=0;k<8;k++){
    ctx.fillStyle='#000';
    ctx.fillRect(Math.round(blks[k])-1,Math.floor(Y(1600)),2,y1-Math.floor(Y(1600)));
    ctx.fillStyle='#e01010';
    ctx.fillRect(Math.round(reds[k])-1,y0,2,Math.floor(Y(1600))-y0);
  }
  ctx.fillStyle='#e01010';ctx.fillRect(694.5,Y(1600)-2,2,2);
  ctx.restore();
  var xt=[],yt=[],xl=['5','5.02','5.04','5.06','5.08','5.1'];
  for(var i=0;i<=5;i++)xt.push([x0+i*(x1-x0)/5,xl[i]]);
  for(var i=1;i<=4;i++)yt.push([Y(i*500),''+(i*500)]);
  axes({x0:x0,x1:x1,y0:y0,y1:y1,xt:xt,yt:yt,xty:633.6,ytx:426.4,xlab:'Time (sec)',xly:650.2});
  el('text',{transform:'translate(394,549.5) rotate(-90)','text-anchor':'middle','class':'al'},'Neuron Index');
})();

// ---------- Panel G ----------
(function(){
  var x0=430.5,x1=696,y0=668.5,y1=803.5;
  var sy=(y1-y0)/2000;
  function Y(n){return y1-n*sy;}
  ctx.save();ctx.beginPath();ctx.rect(x0,y0,x1-x0,y1-y0);ctx.clip();
  var W=x1-x0,H1=Y(1600)-y0,H2=y1-Y(1600);
  var oc=document.createElement('canvas');oc.width=280;oc.height=120;var o=oc.getContext('2d');
  var ox=Math.floor(x0)-4, oy=Math.floor(Y(1600))-4;
  o.fillStyle='#000';o.fillRect(x0-ox,Y(1600)-oy,W,H2+6);
  o.fillStyle='#fff';
  for(var i=0;i<3000;i++){o.fillRect(x0-ox+rnd()*W-0.62,Y(1600)-oy+2+rnd()*(H2-2)-0.62,1.25,1.25);}
  ctx.filter='blur(0.45px)';ctx.drawImage(oc,ox,oy);ctx.filter='none';
  ctx.fillStyle='#f00';
  for(var i=0;i<2500;i++){dot(x0+rnd()*W,y0+rnd()*H1);}
  ctx.fillStyle='rgba(220,220,220,0.9)';ctx.fillRect(485.3,y0,0.7,y1-y0);
  ctx.restore();
  var xt=[],yt=[],xl=['24','24.1','24.2','24.3','24.4'];
  for(var i=0;i<=4;i++)xt.push([x0+i*(x1-x0)/4,xl[i]]);
  for(var i=1;i<=4;i++)yt.push([Y(i*500),''+(i*500)]);
  axes({x0:x0,x1:x1,y0:y0,y1:y1,xt:xt,yt:yt,xty:820.4,ytx:426.4,xlab:'Time (sec)',xly:838.3});
  el('text',{transform:'translate(394,736.2) rotate(-90)','text-anchor':'middle','class':'al'},'Neuron Index');
})();
})();
</script>
</body></html>
